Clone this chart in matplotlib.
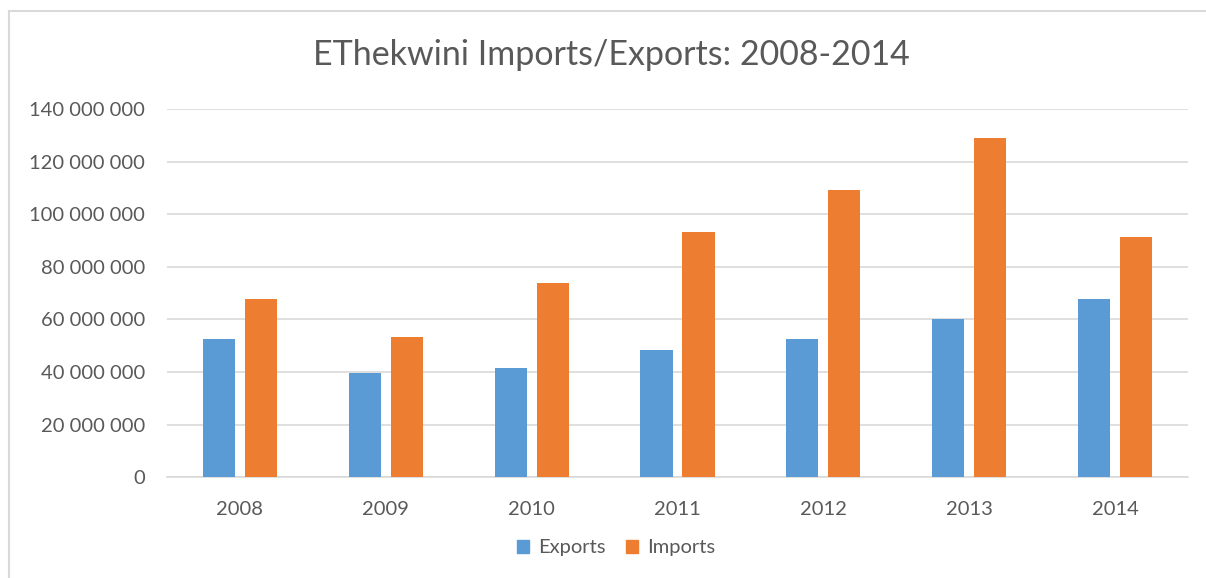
import matplotlib
matplotlib.use("Agg")
import matplotlib.pyplot as plt
from matplotlib.lines import Line2D
from matplotlib.patches import Patch
import numpy as np

years = ["2008", "2009", "2010", "2011", "2012", "2013", "2014"]
exports = [52.7e6, 39.8e6, 41.5e6, 48.2e6, 52.7e6, 60.3e6, 67.9e6]
imports = [67.9e6, 53.5e6, 74.0e6, 93.2e6, 109.3e6, 129.0e6, 91.5e6]
yticks = [0, 20e6, 40e6, 60e6, 80e6, 100e6, 120e6, 140e6]
ytick_labels = ["0", "20 000 000", "40 000 000", "60 000 000", "80 000 000",
                "100 000 000", "120 000 000", "140 000 000"]

plt.rcParams['font.family'] = ['Lato', 'DejaVu Sans']

W, H = 1206, 578
fig = plt.figure(figsize=(W / 100, H / 100), dpi=100)
fig.patch.set_facecolor("white")

# chart border (left and top visible)
fig.add_artist(Line2D([8.5 / W, 8.5 / W], [0, 1 - 10.5 / H], transform=fig.transFigure,
                      color="#d9d9d9", lw=1.5))
fig.add_artist(Line2D([8.5 / W, 1], [1 - 10.5 / H, 1 - 10.5 / H], transform=fig.transFigure,
                      color="#d9d9d9", lw=1.5))

left, right = 167 / W, 1188 / W
bottom, top = 1 - 477.3 / H, 1 - 109 / H
ax = fig.add_axes([left, bottom, right - left, top - bottom])

x = np.arange(len(years))
bw = 0.22
off = 0.144
ax.bar(x - off, exports, width=bw, color="#5B9BD5", label="Exports", zorder=3)
ax.bar(x + off, imports, width=bw, color="#ED7D31", label="Imports", zorder=3)

ax.set_xlim(-0.5, len(years) - 0.5)
ax.set_ylim(0, 140e6)
ax.set_yticks(yticks)
ax.set_yticklabels(ytick_labels)
ax.set_xticks(x)
ax.set_xticklabels(years)
ax.yaxis.grid(True, color="#d9d9d9", lw=1.2, zorder=0)
ax.set_axisbelow(True)
for s in ["top", "right", "left"]:
    ax.spines[s].set_visible(False)
ax.spines["bottom"].set_color("#d9d9d9")
ax.spines["bottom"].set_linewidth(1.2)
ax.tick_params(axis="both", length=0, colors="#595959", labelsize=14.5)
ax.tick_params(axis="y", pad=16)
ax.tick_params(axis="x", pad=17)

fig.text(611 / W, 1 - 55 / H, "EThekwini Imports/Exports: 2008-2014",
         ha="center", va="center", fontsize=24.5, color="#595959")

handles = [Patch(color="#5B9BD5"), Patch(color="#ED7D31")]
fig.legend(handles, ["Exports", "Imports"], loc="center", bbox_to_anchor=(616 / W, 1 - 548 / H),
           ncol=2, frameon=False, fontsize=14.5, handlelength=0.6, handleheight=0.6,
           handletextpad=0.45, columnspacing=1.0, labelcolor="#595959")

fig.savefig("out.png", dpi=100)
